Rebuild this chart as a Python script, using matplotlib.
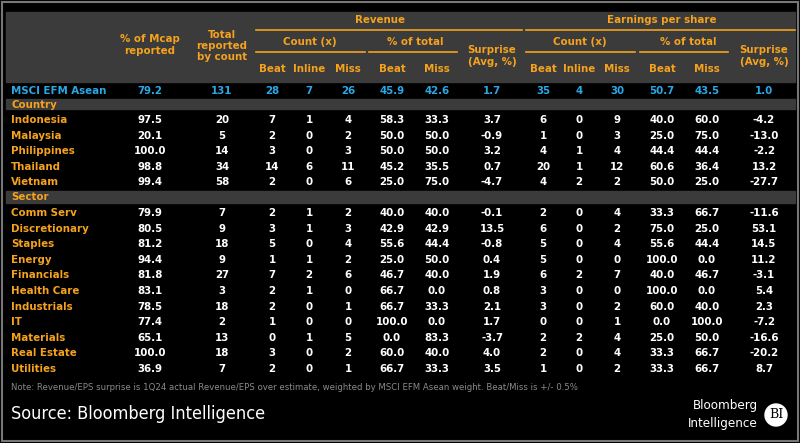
import matplotlib
matplotlib.use("Agg")
import matplotlib.pyplot as plt
from matplotlib.patches import Rectangle

total_label = "MSCI EFM Asean"
total_vals = ["79.2", "131", "28", "7", "26", "45.9", "42.6", "1.7", "35", "4", "30", "50.7", "43.5", "1.0"]
countries = ["Indonesia", "Malaysia", "Philippines", "Thailand", "Vietnam"]
country_vals = [
    ["97.5", "20", "7", "1", "4", "58.3", "33.3", "3.7", "6", "0", "9", "40.0", "60.0", "-4.2"],
    ["20.1", "5", "2", "0", "2", "50.0", "50.0", "-0.9", "1", "0", "3", "25.0", "75.0", "-13.0"],
    ["100.0", "14", "3", "0", "3", "50.0", "50.0", "3.2", "4", "1", "4", "44.4", "44.4", "-2.2"],
    ["98.8", "34", "14", "6", "11", "45.2", "35.5", "0.7", "20", "1", "12", "60.6", "36.4", "13.2"],
    ["99.4", "58", "2", "0", "6", "25.0", "75.0", "-4.7", "4", "2", "2", "50.0", "25.0", "-27.7"],
]
sectors = ["Comm Serv", "Discretionary", "Staples", "Energy", "Financials", "Health Care",
           "Industrials", "IT", "Materials", "Real Estate", "Utilities"]
sector_vals = [
    ["79.9", "7", "2", "1", "2", "40.0", "40.0", "-0.1", "2", "0", "4", "33.3", "66.7", "-11.6"],
    ["80.5", "9", "3", "1", "3", "42.9", "42.9", "13.5", "6", "0", "2", "75.0", "25.0", "53.1"],
    ["81.2", "18", "5", "0", "4", "55.6", "44.4", "-0.8", "5", "0", "4", "55.6", "44.4", "14.5"],
    ["94.4", "9", "1", "1", "2", "25.0", "50.0", "0.4", "5", "0", "0", "100.0", "0.0", "11.2"],
    ["81.8", "27", "7", "2", "6", "46.7", "40.0", "1.9", "6", "2", "7", "40.0", "46.7", "-3.1"],
    ["83.1", "3", "2", "1", "0", "66.7", "0.0", "0.8", "3", "0", "0", "100.0", "0.0", "5.4"],
    ["78.5", "18", "2", "0", "1", "66.7", "33.3", "2.1", "3", "0", "2", "60.0", "40.0", "2.3"],
    ["77.4", "2", "1", "0", "0", "100.0", "0.0", "1.7", "0", "0", "1", "0.0", "100.0", "-7.2"],
    ["65.1", "13", "0", "1", "5", "0.0", "83.3", "-3.7", "2", "2", "4", "25.0", "50.0", "-16.6"],
    ["100.0", "18", "3", "0", "2", "60.0", "40.0", "4.0", "2", "0", "4", "33.3", "66.7", "-20.2"],
    ["36.9", "7", "2", "0", "1", "66.7", "33.3", "3.5", "1", "0", "2", "33.3", "66.7", "8.7"],
]
sub_headers = ["Beat", "Inline", "Miss", "Beat", "Miss", None, "Beat", "Inline", "Miss", "Beat", "Miss", None]

ORANGE = "#f5a21e"
BLUE = "#2aa8e6"
GREY = "#3b3b3b"
FONT = dict(family="DejaVu Sans", stretch="condensed", weight="bold")

fig = plt.figure(figsize=(8, 4.43), dpi=100, facecolor="black")
ax = fig.add_axes([0, 0, 1, 1])
ax.set_xlim(0, 800); ax.set_ylim(443, 0); ax.axis("off")
ax.set_facecolor("black")

ax.add_patch(Rectangle((2, 2), 796, 439, fill=False, ec="#777777", lw=1.5))
ax.add_patch(Rectangle((6, 12), 789, 70, color=GREY))
ax.add_patch(Rectangle((6, 99), 789, 10, color=GREY))
ax.add_patch(Rectangle((6, 191), 789, 12, color=GREY))

def t(x, y, s, c="white", ha="center", size=8.2, **kw):
    ax.text(x, y, s, color=c, ha=ha, va="center", fontsize=size, **FONT, **kw)

colx = [150, 222, 272, 309, 348, 392, 437, 492, 543, 579, 617, 662, 707, 764]

t(380, 20, "Revenue", ORANGE)
t(662, 20, "Earnings per share", ORANGE)
for x0, x1 in [(256, 522), (526, 795)]:
    ax.plot([x0, x1], [30, 30], color=ORANGE, lw=1.2)
for x0, x1, xc, lab in [(256, 365, 310, "Count (x)"), (369, 457, 415, "% of total"),
                         (526, 635, 580, "Count (x)"), (640, 728, 688, "% of total")]:
    t(xc, 42, lab, ORANGE)
    ax.plot([x0, x1], [52, 52], color=ORANGE, lw=1.2)
t(492, 56, "Surprise\n(Avg, %)", ORANGE, linespacing=1.25)
t(764, 56, "Surprise\n(Avg, %)", ORANGE, linespacing=1.25)
t(150, 45, "% of Mcap\nreported", ORANGE, linespacing=1.25)
t(222, 46, "Total\nreported\nby count", ORANGE, linespacing=1.15)
subx = [272, 309, 348, 392, 437, None, 543, 579, 617, 662, 707, None]
for x, s in zip(subx, sub_headers):
    if s:
        t(x, 69, s, ORANGE)

t(11, 91, total_label, BLUE, ha="left")
for x, v in zip(colx, total_vals):
    t(x, 91, v, BLUE)

t(11, 105, "Country", ORANGE, ha="left")
pitch = 15.6
y = 120
for name, vals in zip(countries, country_vals):
    t(11, y, name, ORANGE, ha="left")
    for x, v in zip(colx, vals):
        t(x, y, v)
    y += pitch
t(11, 197, "Sector", ORANGE, ha="left")
y = 213
for name, vals in zip(sectors, sector_vals):
    t(11, y, name, ORANGE, ha="left")
    for x, v in zip(colx, vals):
        t(x, y, v)
    y += pitch

ax.text(11, 387, "Note: Revenue/EPS surprise is 1Q24 actual Revenue/EPS over estimate, weighted by MSCI EFM Asean weight. Beat/Miss is +/- 0.5%",
        color="#8a8a8a", ha="left", va="center", fontsize=6.8, family="DejaVu Sans", stretch="condensed")
ax.text(11, 414, "Source: Bloomberg Intelligence", color="white", ha="left", va="center",
        fontsize=13, family="DejaVu Sans", stretch="condensed")
ax.text(758, 406, "Bloomberg", color="white", ha="right", va="center", fontsize=9.5, family="DejaVu Sans", stretch="condensed")
ax.text(758, 424, "Intelligence", color="white", ha="right", va="center", fontsize=9.5, family="DejaVu Sans", stretch="condensed")
ax.add_patch(plt.Circle((776, 415), 11, color="white"))
ax.text(776, 415, "BI", color="black", ha="center", va="center", fontsize=9, family="DejaVu Serif")

fig.savefig("out.png", dpi=100, facecolor="black")
